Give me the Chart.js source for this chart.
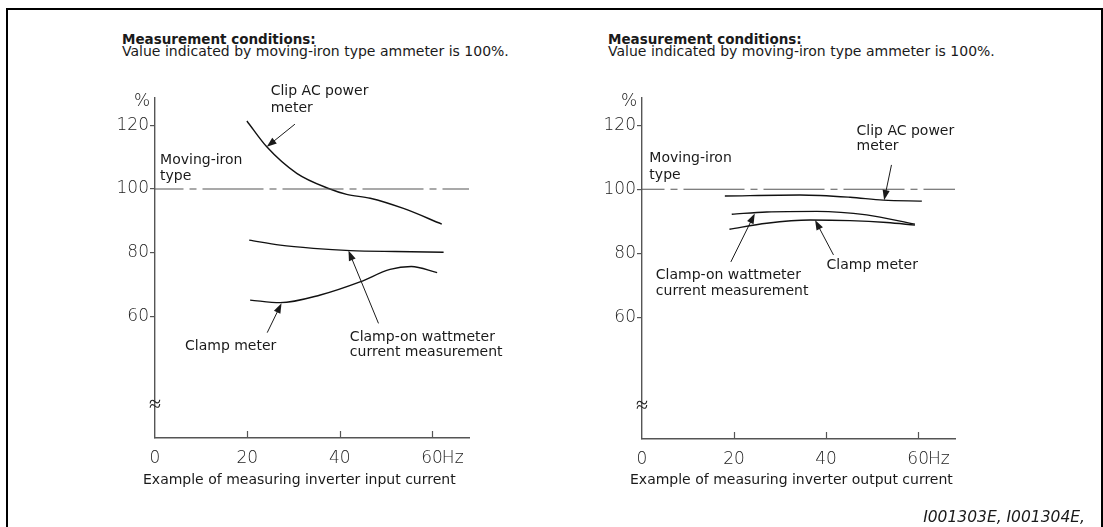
<!DOCTYPE html>
<html>
<head>
<meta charset="utf-8">
<script src="https://cdn.jsdelivr.net/npm/chart.js@4.4.1/dist/chart.umd.min.js"></script>
<style>
body { margin: 0; background: #fff; }
#page { position: relative; width: 1103px; height: 527px; overflow: hidden; font-family: "DejaVu Sans", sans-serif; color: #1a1a1a; }
.frame { position: absolute; left: 6px; top: 8px; width: 1097px; height: 600px; border: 2px solid #000; box-sizing: border-box; }
.txt { position: absolute; white-space: nowrap; font-size: 14px; line-height: 14px; }
.head { font-weight: bold; font-size: 13.5px; line-height: 13.5px; }
canvas { position: absolute; top: 0; }
</style>
</head>
<body>
<div id="page">
  <div class="frame"></div>

  <div class="txt head" style="left:122px;top:33px">Measurement conditions:</div>
  <div class="txt" style="left:122px;top:44px">Value indicated by moving-iron type ammeter is 100%.</div>
  <div class="txt head" style="left:608px;top:33px">Measurement conditions:</div>
  <div class="txt" style="left:608px;top:44px">Value indicated by moving-iron type ammeter is 100%.</div>

  <canvas id="inputChart" width="551" height="527" style="left:0"></canvas>
  <canvas id="outputChart" width="552" height="527" style="left:551px"></canvas>

  <div class="txt" style="left:143px;top:472px">Example of measuring inverter input current</div>
  <div class="txt" style="left:630px;top:472px">Example of measuring inverter output current</div>
  <div class="txt" style="right:18px;top:510px;font-style:italic;font-size:15.5px;line-height:15.5px">I001303E, I001304E,</div>
</div>

<script>
// --- dados ---
const xTicks = [0, 20, 40, 60];
const yTicks = [60, 80, 100, 120];

// nível de referência (ferro móvel = 100%)
const refX = [0, 68];
const refY = [100, 100];

// medição da corrente de entrada
const inClipX = [19.9, 24.2, 30.7, 37.9, 41.5, 46.6, 53.8, 62.1];
const inClipY = [121.3, 113.2, 104.9, 100.0, 98.3, 97.1, 93.9, 89.0];
const inWattX = [20.4, 27.1, 34.3, 42.3, 52.0, 62.5];
const inWattY = [84.0, 82.4, 81.4, 80.7, 80.4, 80.2];
const inClampX = [20.6, 27.1, 35.8, 44.4, 50.9, 55.5, 61.1];
const inClampY = [65.2, 64.4, 66.8, 70.9, 74.8, 75.7, 73.8];

// medição da corrente de saída
const outClipX = [18.0, 34.3, 45.2, 52.4, 60.8];
const outClipY = [97.9, 98.2, 97.5, 96.6, 96.3];
const outWattX = [19.5, 27.1, 38.0, 48.8, 59.3];
const outWattY = [92.2, 92.9, 93.1, 92.0, 89.1];
const outClampX = [19.0, 27.1, 36.5, 45.2, 53.2, 59.3];
const outClampY = [87.5, 89.4, 90.4, 90.2, 89.6, 88.8];

const pts = (xs, ys) => xs.map((x, i) => ({ x, y: ys[i] }));

const LABEL_FONT = '14px "DejaVu Sans"';
const TICK_FONT = { family: 'DejaVu Sans', weight: '200', size: 17 };
const TICK_FONT_STR = '200 17px "DejaVu Sans"';

// notas (posições em unidades dos eixos)
const inputNotes = {
    texts: [
        { t: 'Clip AC power', x: 25.05, y: 130.5 },
        { t: 'meter', x: 25.05, y: 125.3 },
        { t: 'Moving-iron', x: 1.1, y: 109.1 },
        { t: 'type', x: 1.1, y: 104.1 },
        { t: 'Clamp meter', x: 6.5, y: 50.6 },
        { t: 'Clamp-on wattmeter', x: 42.2, y: 53.5 },
        { t: 'current measurement', x: 42.2, y: 48.7 }
    ],
    arrows: [
        { from: [30.3, 120.3], to: [24.2, 113.2] },
        { from: [24.3, 55.0], to: [27.4, 64.2] },
        { from: [48.4, 57.9], to: [41.9, 80.7] }
    ],
    dashOffset: 32.5
};
const outputNotes = {
    texts: [
        { t: 'Clip AC power', x: 46.6, y: 118.2 },
        { t: 'meter', x: 46.6, y: 113.3 },
        { t: 'Moving-iron', x: 1.6, y: 109.7 },
        { t: 'type', x: 1.6, y: 104.4 },
        { t: 'Clamp-on wattmeter', x: 3.0, y: 73.2 },
        { t: 'current measurement', x: 3.0, y: 68.0 },
        { t: 'Clamp meter', x: 40.1, y: 76.3 }
    ],
    arrows: [
        { from: [54.2, 107.6], to: [52.6, 96.6] },
        { from: [19.3, 77.3], to: [24.5, 92.4] },
        { from: [41.6, 79.5], to: [37.6, 90.4] }
    ],
    dashOffset: 38.5
};

function drawArrow(ctx, x1, y1, x2, y2) {
    const ang = Math.atan2(y2 - y1, x2 - x1);
    const len = 10, half = 3.6;
    ctx.beginPath();
    ctx.moveTo(x1, y1);
    ctx.lineTo(x2 - Math.cos(ang) * len * 0.8, y2 - Math.sin(ang) * len * 0.8);
    ctx.stroke();
    ctx.beginPath();
    ctx.moveTo(x2, y2);
    ctx.lineTo(x2 - Math.cos(ang) * len - Math.sin(ang) * half, y2 - Math.sin(ang) * len + Math.cos(ang) * half);
    ctx.lineTo(x2 - Math.cos(ang) * len + Math.sin(ang) * half, y2 - Math.sin(ang) * len - Math.cos(ang) * half);
    ctx.closePath();
    ctx.fill();
}

const notesPlugin = {
    id: 'notes',
    afterDraw(chart) {
        const notes = chart.options.plugins.notes;
        const { ctx } = chart;
        const xs = chart.scales.x, ys = chart.scales.y;
        ctx.save();

        // marcas do eixo x para dentro
        ctx.strokeStyle = '#555';
        ctx.lineWidth = 1.2;
        xTicks.filter(v => v > 0).forEach(v => {
            const px = Math.round(xs.getPixelForValue(v)) + 0.5;
            ctx.beginPath();
            ctx.moveTo(px, xs.top);
            ctx.lineTo(px, xs.top - 7);
            ctx.stroke();
        });

        // "Hz" junto do último rótulo, na mesma linha de base
        ctx.fillStyle = '#222';
        const items = xs.getLabelItems();
        const lastItem = items[items.length - 1];
        if (lastItem) {
            ctx.font = lastItem.font.string;
            ctx.textAlign = 'left';
            ctx.textBaseline = lastItem.options.textBaseline;
            const w = ctx.measureText(String(lastItem.label)).width;
            ctx.fillText('Hz', lastItem.options.translation[0] + w / 2 - 1,
                lastItem.options.translation[1] + lastItem.textOffset);
        }

        // "%" e quebra do eixo
        ctx.font = TICK_FONT_STR;
        ctx.textAlign = 'center';
        ctx.textBaseline = 'middle';
        ctx.fillText('%', ys.left + ys.width - 13, ys.getPixelForValue(127.3));
        ctx.font = '200 22px "DejaVu Sans"';
        ctx.fillText('\u2248', xs.getPixelForValue(0), ys.getPixelForValue(32.3));

        // textos
        ctx.fillStyle = '#1a1a1a';
        ctx.font = LABEL_FONT;
        ctx.textAlign = 'left';
        ctx.textBaseline = 'middle';
        notes.texts.forEach(n => ctx.fillText(n.t, xs.getPixelForValue(n.x), ys.getPixelForValue(n.y)));

        // setas
        ctx.strokeStyle = '#1a1a1a';
        ctx.lineWidth = 1;
        notes.arrows.forEach(a => drawArrow(ctx,
            xs.getPixelForValue(a.from[0]), ys.getPixelForValue(a.from[1]),
            xs.getPixelForValue(a.to[0]), ys.getPixelForValue(a.to[1])));
        ctx.restore();
    }
};

function curve(data) {
    return {
        data, borderColor: '#111', borderWidth: 1.4, pointRadius: 0,
        tension: 0.4, cubicInterpolationMode: 'monotone', fill: false
    };
}

function makeChart(id, series, notes, box) {
    const ctx = document.getElementById(id).getContext('2d');
    return new Chart(ctx, {
        type: 'line',
        data: {
            datasets: [
                { data: pts(refX, refY), borderColor: '#555', borderWidth: 1.2, pointRadius: 0,
                  borderDash: [61, 6, 7, 6], borderDashOffset: notes.dashOffset, tension: 0 },
                ...series.map(curve)
            ]
        },
        options: {
            responsive: false,
            animation: false,
            layout: { padding: { left: 0, top: box.top, right: box.right, bottom: 0 } },
            plugins: { legend: { display: false }, tooltip: { enabled: false }, notes },
            scales: {
                x: {
                    type: 'linear', min: 0, max: 68,
                    afterBuildTicks: a => { a.ticks = xTicks.map(v => ({ value: v })); },
                    afterFit: a => { a.height = box.xh; },
                    grid: { display: false },
                    border: { display: true, color: '#555', width: 1.4 },
                    ticks: { autoSkip: false, maxRotation: 0, padding: 2, color: '#222', font: TICK_FONT }
                },
                y: {
                    type: 'linear', min: 22, max: 128.5,
                    afterBuildTicks: a => { a.ticks = yTicks.map(v => ({ value: v })); },
                    afterFit: a => { a.width = box.yw; },
                    grid: { drawOnChartArea: false, drawTicks: true, tickLength: 5, color: '#555', lineWidth: 1.2 },
                    border: { display: true, color: '#555', width: 1.4 },
                    ticks: { padding: 1, color: '#222', font: TICK_FONT }
                }
            }
        },
        plugins: [notesPlugin]
    });
}

makeChart('inputChart',
    [pts(inClipX, inClipY), pts(inWattX, inWattY), pts(inClampX, inClampY)],
    inputNotes, { top: 98, right: 82, yw: 155, xh: 89 });

makeChart('outputChart',
    [pts(outClipX, outClipY), pts(outWattX, outWattY), pts(outClampX, outClampY)],
    outputNotes, { top: 98, right: 148, yw: 91, xh: 88 });
</script>
</body>
</html>
